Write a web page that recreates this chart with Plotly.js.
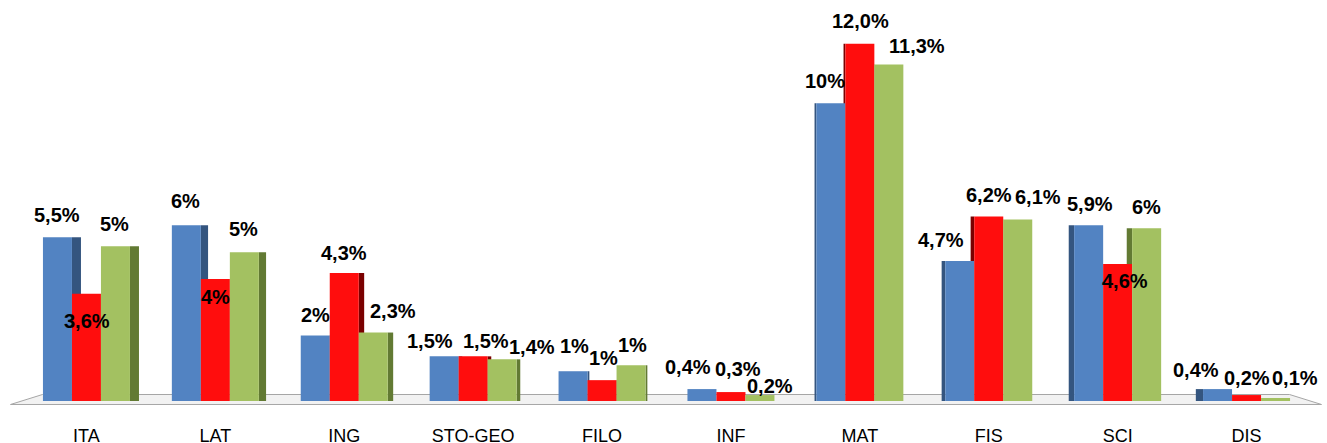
<!DOCTYPE html>
<html>
<head>
<meta charset="utf-8">
<script src="https://cdn.plot.ly/plotly-3.0.1.min.js"></script>
<style>html,body{margin:0;padding:0;background:#fff;}#chart{width:1327px;height:443px;}</style>
</head>
<body>
<div id="chart"></div>
<script>
// ---- data ----
const categories = ['ITA','LAT','ING','STO-GEO','FILO','INF','MAT','FIS','SCI','DIS'];
const serie1 = [5.5, 5.9, 2.2, 1.5, 1.0, 0.4, 10.0, 4.7, 5.9, 0.4];
const serie2 = [3.6, 4.1, 4.3, 1.5, 0.7, 0.3, 12.0, 6.2, 4.6, 0.2];
const serie3 = [5.2, 5.0, 2.3, 1.4, 1.2, 0.2, 11.3, 6.1, 5.8, 0.1];
const labels1 = ['5,5%','6%','2%','1,5%','1%','0,4%','10%','4,7%','5,9%','0,4%'];
const labels2 = ['3,6%','4%','4,3%','1,5%','1%','0,3%','12,0%','6,2%','4,6%','0,2%'];
const labels3 = ['5%','5%','2,3%','1,4%','1%','0,2%','11,3%','6,1%','6%','0,1%'];

// ---- styling / placement ----
const W = 0.225;                      // bar width (category units)
const offsets = [-1.5*W, -0.5*W, 0.5*W];
const frontColors = ['#5283C2', '#FF0D0D', '#A3C161'];
const sideColors  = ['#34557F', '#7A0000', '#627A33'];
const series = [serie1, serie2, serie3];
const labelSets = [labels1, labels2, labels3];
// label offsets in px: [dx, dy]
const labelShift = [
  [[0,22],[1,-27],[-1,22]],
  [[-1,24],[0,-18],[-1,23]],
  [[0,21],[0,20],[20,22]],
  [[-14,15],[13,15],[30,12]],
  [[1,25],[1,22],[1,20]],
  [[-14,22],[7,23],[10,9]],
  [[-6,22],[1,23],[28,19]],
  [[-19,21],[0,21],[20,22]],
  [[1,21],[7,-17],[0,21]],
  [[-22,19],[0,17],[19,20]]
];

const idx = categories.map((_, i) => i);
const sideW = idx.map(i => 0.014 * Math.abs(i - 5));

const traces = [];
// side faces (drawn first)
series.forEach((s, k) => {
  traces.push({
    type: 'bar', x: categories, y: s,
    width: sideW,
    offset: idx.map(i => i <= 4 ? offsets[k] + W : offsets[k] - sideW[i]),
    marker: {color: sideColors[k], line: {width: 0}},
    hoverinfo: 'skip', showlegend: false
  });
});
// front faces
series.forEach((s, k) => {
  traces.push({
    type: 'bar', x: categories, y: s,
    width: W, offset: offsets[k],
    marker: {color: frontColors[k], line: {width: 0}},
    showlegend: false
  });
});

const annotations = [];
series.forEach((s, k) => {
  s.forEach((v, i) => {
    annotations.push({
      x: i + offsets[k] + W/2, y: v, xref: 'x', yref: 'y',
      text: '<b>' + labelSets[k][i] + '</b>', showarrow: false,
      xanchor: 'center', yanchor: 'middle',
      xshift: labelShift[i][k][0], yshift: labelShift[i][k][1],
      font: {family: '"Liberation Sans", Arial, sans-serif', size: 20, color: '#000', weight: 'bold'},
    });
  });
});

// plot geometry in pixels
const L = 21.5, R = 1311.5, T = 14, B = 401.5;
const fx = px => (px - L) / (R - L);
const fy = py => (B - py) / (B - T);
const floorPath = `M ${fx(42)} ${fy(395)} L ${fx(1290)} ${fy(395)} L ${fx(1322)} ${fy(405)} L ${fx(10)} ${fy(405)} Z`;

const layout = {
  width: 1327, height: 443,
  margin: {l: L, r: 1327 - R, t: T, b: 443 - B},
  paper_bgcolor: '#fff', plot_bgcolor: 'rgba(0,0,0,0)',
  barmode: 'overlay',
  showlegend: false,
  xaxis: {
    type: 'category', range: [-0.5, 9.5],
    showgrid: false, zeroline: false, showline: false, ticks: '',
    ticklabelstandoff: 22,
    tickfont: {family: '"Liberation Sans", Arial, sans-serif', size: 18, color: '#000'}
  },
  yaxis: {
    range: [0, 13], visible: false, showgrid: false, zeroline: false
  },
  shapes: [{
    type: 'path', xref: 'paper', yref: 'paper', path: floorPath,
    fillcolor: '#F2F2F2', line: {color: '#A6A6A6', width: 1}, layer: 'below'
  }],
  annotations: annotations
};

Plotly.newPlot('chart', traces, layout, {displayModeBar: false, staticPlot: true});
</script>
</body>
</html>
